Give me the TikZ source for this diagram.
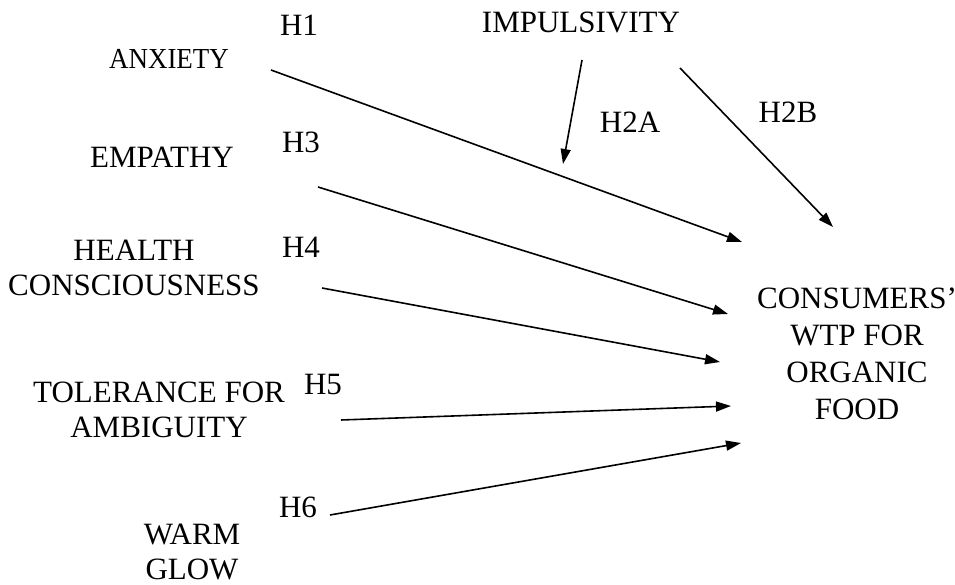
\documentclass[tikz,border=0pt]{standalone}
\usepackage{fontspec}
\setmainfont{Liberation Serif}
\usetikzlibrary{arrows.meta}
\begin{document}
\begin{tikzpicture}[x=1pt,y=-1pt,
  lbl/.style={font=\fontsize{31}{35}\selectfont, align=center, inner sep=0pt},
  hyp/.style={font=\fontsize{31}{35}\selectfont, inner sep=0pt},
  link/.style={line width=1.6pt, -{Triangle[length=15pt,width=10pt]}}]
\useasboundingbox (0,0) rectangle (955,585);

% construct labels
\node[lbl, font=\fontsize{29}{33}\selectfont] (anx) at (169,59) {\scalebox{0.93}[1]{ANXIETY}};
\node[lbl] (imp) at (581,22) {IMPULSIVITY};
\node[lbl] (emp) at (162,157) {EMPATHY};
\node[lbl] (hea) at (134,268) {HEALTH\\CONSCIOUSNESS};
\node[lbl] (tol) at (159,410) {TOLERANCE FOR\\AMBIGUITY};
\node[lbl] (war) at (192,552) {WARM\\GLOW};
\node[lbl, font=\fontsize{31}{37}\selectfont] (wtp) at (857,354) {CONSUMERS'\\WTP FOR\\ORGANIC\\FOOD};

% hypothesis labels
\node[hyp] (h1) at (299,25) {H1};
\node[hyp] (h2a) at (630,122) {H2A};
\node[hyp] (h2b) at (788,112) {H2B};
\node[hyp] (h3) at (301,142) {H3};
\node[hyp] (h4) at (301,247) {H4};
\node[hyp] (h5) at (323,385) {H5};
\node[hyp] (h6) at (298,507) {H6};

% arrow end points
\coordinate (anxS) at (271,70);   \coordinate (anxE) at (742,242);
\coordinate (impS) at (582,60);   \coordinate (impE) at (563,164);
\coordinate (impS2) at (680,68);  \coordinate (impE2) at (833,227);
\coordinate (empS) at (318,187);  \coordinate (empE) at (728,314);
\coordinate (heaS) at (322,288);  \coordinate (heaE) at (720,362);
\coordinate (tolS) at (341,420);  \coordinate (tolE) at (731,406);
\coordinate (warS) at (330,515);  \coordinate (warE) at (741,443);

\draw[link] (anxS) -- (anxE);
\draw[link] (impS) -- (impE);
\draw[link] (impS2) -- (impE2);
\draw[link] (empS) -- (empE);
\draw[link] (heaS) -- (heaE);
\draw[link] (tolS) -- (tolE);
\draw[link] (warS) -- (warE);
\end{tikzpicture}
\end{document}
